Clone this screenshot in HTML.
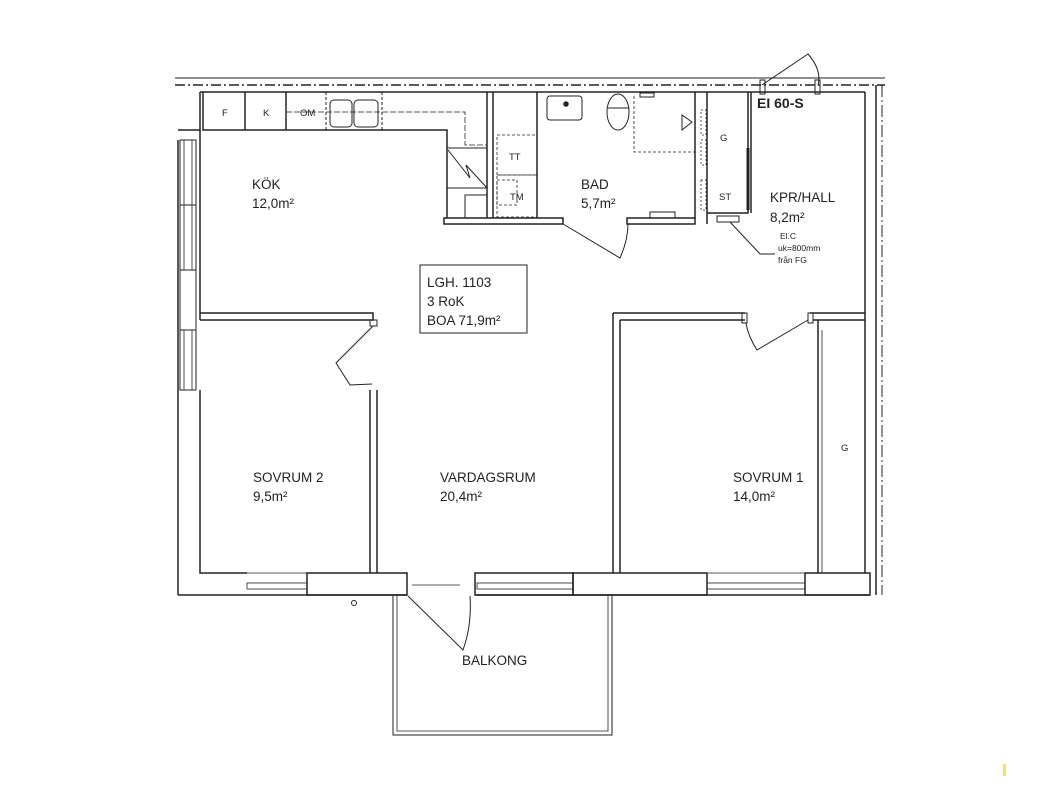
<!DOCTYPE html>
<html><head><meta charset="utf-8"><style>
html,body{margin:0;padding:0;background:#fff}
svg{display:block}
text{font-family:"Liberation Sans",sans-serif;fill:#222}
</style></head><body>
<svg width="1040" height="800" viewBox="0 0 1040 800" xmlns="http://www.w3.org/2000/svg">
<g stroke="#222" fill="none" stroke-width="1.5">
<!-- top outer lines -->
<line x1="175" y1="78" x2="885" y2="78" stroke-width="1"/>
<line x1="175" y1="85" x2="885" y2="85" stroke-dasharray="10,3,2,3"/>
<line x1="200" y1="92" x2="865" y2="92"/>
<!-- left wall -->
<path d="M200 92 V130 H178"/>
<path d="M178 140 V595"/>
<path d="M200 390 V573 H247"/>
<rect x="180" y="140" width="16" height="65" stroke-width="1"/>
<rect x="184" y="140" width="8" height="65" stroke-width="0.8"/>
<rect x="180" y="205" width="16" height="65" stroke-width="1"/>
<rect x="184" y="205" width="8" height="65" stroke-width="0.8"/>
<rect x="180" y="270" width="16" height="60" stroke-width="1"/>
<rect x="180" y="330" width="16" height="60" stroke-width="1"/>
<rect x="184" y="330" width="8" height="60" stroke-width="0.8"/>
<line x1="200" y1="130" x2="200" y2="320"/>
<!-- bottom wall -->
<line x1="178" y1="595" x2="407" y2="595"/>
<line x1="475" y1="595" x2="870" y2="595"/>
<rect x="307" y="573" width="100" height="22"/>
<rect x="475" y="573" width="98" height="22"/>
<rect x="573" y="573" width="134" height="22"/>
<rect x="805" y="573" width="65" height="22"/>
<rect x="247" y="583" width="60" height="6" stroke-width="0.8"/>
<rect x="477" y="583" width="96" height="6" stroke-width="0.8"/>
<rect x="707" y="583" width="98" height="6" stroke-width="0.8"/>
<line x1="247" y1="573" x2="307" y2="573" stroke-width="0.8"/>
<line x1="707" y1="573" x2="805" y2="573" stroke-width="0.8"/>
<line x1="412" y1="585" x2="460" y2="585" stroke-width="0.8"/>
<!-- balcony door -->
<path d="M408 596 L463 650 Q472 625 470 596" stroke-width="1"/>
<circle cx="354" cy="603" r="2.5" stroke-width="1"/>
<!-- balcony -->
<path d="M393 595 V735 H612 V595" stroke-width="1"/>
<path d="M397 595 V731 H608 V595" stroke-width="0.8"/>
<!-- right wall -->
<line x1="865" y1="92" x2="865" y2="573"/>
<line x1="876" y1="85" x2="876" y2="595"/>
<line x1="882" y1="85" x2="882" y2="595" stroke-dasharray="12,3,2,3" stroke-width="1"/>
<!-- entrance door -->
<path d="M762 85 L808 54 Q822 70 818 85" stroke-width="1"/>
<rect x="760" y="80" width="5" height="14" stroke-width="1"/>
<rect x="815" y="80" width="5" height="14" stroke-width="1"/>
<!-- kitchen counter -->
<path d="M203 92 V130 H447 V218"/>
<line x1="245" y1="92" x2="245" y2="130"/>
<line x1="286" y1="92" x2="286" y2="130"/>
<line x1="326" y1="92" x2="326" y2="130" stroke-dasharray="3,2" stroke-width="1"/>
<line x1="382" y1="92" x2="382" y2="130" stroke-dasharray="3,2" stroke-width="1"/>
<rect x="330" y="100" width="22" height="27" rx="4" stroke-width="1"/>
<rect x="354" y="100" width="24" height="27" rx="4" stroke-width="1"/>
<path d="M286 112 H465 V145 H487" stroke-dasharray="6,2" stroke-width="0.8"/>
<rect x="447" y="148" width="40" height="40" stroke-width="1"/>
<path d="M448 150 L470 178 L466 165 L487 188" stroke-width="1"/>
<path d="M465 218 V195 H487" stroke-width="1"/>
<path d="M444 218 H563 V224 H444 Z"/>
<line x1="487" y1="92" x2="487" y2="218"/>
<line x1="493" y1="92" x2="493" y2="218"/>
<rect x="497" y="135" width="40" height="40" stroke-dasharray="3,2" stroke-width="0.8"/>
<rect x="497" y="180" width="20" height="25" stroke-dasharray="3,2" stroke-width="0.8"/>
<rect x="497" y="175" width="40" height="42" stroke-dasharray="3,2" stroke-width="0.8"/>
<line x1="537" y1="92" x2="537" y2="218"/>
<!-- bathroom -->
<rect x="547" y="96" width="35" height="24" rx="3" stroke-width="1"/>
<circle cx="566" cy="104" r="2" fill="#222"/>
<ellipse cx="618" cy="112" rx="11" ry="18" stroke-width="1"/>
<line x1="608" y1="108" x2="629" y2="108" stroke-width="1"/>
<rect x="640" y="93" width="14" height="4" stroke-width="1"/>
<path d="M634 96 V152 H695" stroke-dasharray="3,2" stroke-width="0.8"/>
<path d="M692 122 L682 115 V130 Z" stroke-width="1"/>
<path d="M563 224 L620 258 Q628 240 628 224" stroke-width="1"/>
<path d="M627 218 H695 V224 H627 Z"/>
<rect x="650" y="212" width="25" height="6" stroke-width="1"/>
<line x1="695" y1="92" x2="695" y2="218"/>
<line x1="707" y1="92" x2="707" y2="224"/>
<rect x="701" y="110" width="5" height="25" stroke-dasharray="2,2" stroke-width="0.8"/>
<rect x="701" y="140" width="5" height="25" stroke-dasharray="2,2" stroke-width="0.8"/>
<rect x="701" y="180" width="5" height="30" stroke-dasharray="2,2" stroke-width="0.8"/>
<path d="M707 213 H748 V92"/>
<line x1="751" y1="92" x2="751" y2="213"/>
<line x1="748" y1="148" x2="748" y2="210" stroke-width="3"/>
<rect x="717" y="216" width="22" height="6" stroke-width="1"/>
<path d="M730 222 L760 254 H775" stroke-width="1"/>
<!-- sovrum 2 / kitchen wall -->
<path d="M200 313 H373 V320 H200" />
<rect x="370" y="320" width="7" height="6" stroke-width="1"/>
<path d="M373 326 L336 363 L350 385 L372 384" stroke-width="1"/>
<path d="M370 390 V573 M377 390 V573"/>
<!-- sovrum 1 -->
<path d="M613 313 H745 M620 320 H745 M613 313 V573 M620 320 V573"/>
<rect x="742" y="313" width="5" height="10" stroke-width="1"/>
<rect x="808" y="313" width="5" height="10" stroke-width="1"/>
<path d="M808 320 L757 350 Q748 336 746 323" stroke-width="1"/>
<path d="M810 313 H865 M813 320 H865"/>
<line x1="818" y1="320" x2="818" y2="573"/>
<line x1="822" y1="330" x2="822" y2="573" stroke-width="0.8"/>
<!-- LGH box -->
<rect x="420" y="265" width="107" height="68" stroke-width="1"/>
</g>
<g font-size="13.5">
<text x="252" y="189">KÖK</text><text x="252" y="208">12,0m²</text>
<text x="581" y="189">BAD</text><text x="581" y="208">5,7m²</text>
<text x="770" y="202">KPR/HALL</text><text x="770" y="222">8,2m²</text>
<text x="253" y="482">SOVRUM 2</text><text x="253" y="501">9,5m²</text>
<text x="440" y="482">VARDAGSRUM</text><text x="440" y="501">20,4m²</text>
<text x="733" y="482">SOVRUM 1</text><text x="733" y="501">14,0m²</text>
<text x="462" y="665">BALKONG</text>
<text x="427" y="287">LGH. 1103</text><text x="427" y="306">3 RoK</text><text x="427" y="325">BOA 71,9m²</text>
</g>
<g font-size="9.5">
<text x="222" y="116">F</text><text x="263" y="116">K</text><text x="300" y="116">OM</text>
<text x="509" y="160">TT</text><text x="510" y="200">TM</text>
<text x="720" y="141">G</text><text x="719" y="200">ST</text>
<text x="841" y="451">G</text>
<text x="780" y="239" font-size="8.5">El.C</text>
<text x="778" y="251" font-size="8.5">uk=800mm</text>
<text x="778" y="263" font-size="8.5">från FG</text>
</g>
<text x="757" y="108" font-size="14" font-weight="bold">EI 60-S</text>
<rect x="1003" y="764" width="3" height="12" fill="#f5d97a"/>
</svg>
</body></html>
